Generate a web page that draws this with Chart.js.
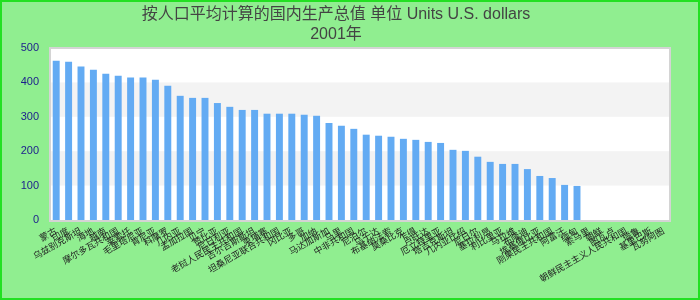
<!DOCTYPE html>
<html><head><meta charset="utf-8">
<script src="https://cdn.jsdelivr.net/npm/chart.js@4/dist/chart.umd.min.js"></script>
<style>
html,body{margin:0;padding:0;background:#90ee90;}
#wrap{width:700px;height:300px;box-sizing:border-box;border:2px solid #22e022;background:#90ee90;}
canvas{display:block;}
</style></head><body>
<div id="wrap"><canvas id="c" width="696" height="296"></canvas></div>
<script>
const titleLines = ["按人口平均计算的国内生产总值 单位 Units U.S. dollars", "2001年"];
const categories = [
  "蒙古","印度","乌兹别克斯坦","海地","越南","摩尔多瓦共和国","莱索托","毛里塔尼亚","肯尼亚","科摩罗",
  "几内亚","孟加拉国","贝宁","赞比亚","尼日利亚","老挝人民民主共和国","吉尔吉斯斯坦","柬埔寨","坦桑尼亚联合共和国","冈比亚",
  "多哥","加纳","马达加斯加","马里","中非共和国","尼泊尔","乌干达","布基纳法索","莫桑比克","乍得",
  "卢旺达","厄立特里亚","塔吉克斯坦","几内亚比绍","尼日尔","塞拉利昂","利比里亚","马拉维","布隆迪","埃塞俄比亚",
  "刚果民主共和国","阿富汗","缅甸","索马里","朝鲜","图瓦卢","朝鲜民主主义人民共和国","瑙鲁","基里巴斯","瓦努阿图"
];
const values = [
  463,460,446,437,425,419,414,414,408,390,
  361,355,355,340,329,320,320,309,309,309,
  306,303,282,274,265,248,245,242,236,233,
  227,224,204,201,184,169,163,163,148,128,
  122,102,99,null,null,null,null,null,null,null
];
const yTicks = [0,100,200,300,400,500];

const FONT = "'Liberation Sans', Arial, 'Noto Sans CJK SC', sans-serif";

const plotBg = {
  id: 'plotBg',
  beforeDatasetsDraw(chart) {
    const {ctx, chartArea: a, scales: {y}} = chart;
    ctx.save();
    ctx.fillStyle = '#ffffff';
    ctx.fillRect(a.left, a.top, a.width, a.height);
    ctx.fillStyle = '#f3f3f3';
    for (let i = 0; i < yTicks.length - 1; i++) {
      if (i % 2 === 1) {
        const yTop = y.getPixelForValue(yTicks[i + 1]);
        const yBot = y.getPixelForValue(yTicks[i]);
        ctx.fillRect(a.left, yTop, a.width, yBot - yTop);
      }
    }
    ctx.restore();
  },
  afterDatasetsDraw(chart) {
    const {ctx, chartArea: a} = chart;
    ctx.save();
    ctx.strokeStyle = '#d4d4d4';
    ctx.lineWidth = 2;
    ctx.strokeRect(a.left, a.top, a.width, a.height + 1);
    ctx.restore();
  }
};

new Chart(document.getElementById('c'), {
  type: 'bar',
  data: {
    labels: categories,
    datasets: [{
      data: values,
      backgroundColor: '#63abf3',
      barPercentage: 0.7,
      categoryPercentage: 0.8
    }]
  },
  options: {
    responsive: false,
    animation: false,
    devicePixelRatio: 1,
    layout: {padding: {left: 0, right: 28, top: 0, bottom: 0}},
    plugins: {
      legend: {display: false},
      tooltip: {enabled: false},
      title: {
        display: true,
        text: titleLines,
        color: '#444444',
        font: {size: 16, weight: 'normal', family: FONT, lineHeight: 1.25},
        padding: {top: 3, bottom: 3}
      }
    },
    scales: {
      x: {
        grid: {display: false, drawTicks: false},
        border: {display: false},
        ticks: {
          autoSkip: false, maxRotation: 30, minRotation: 30,
          color: '#222222', padding: 6,
          font: {size: 9, family: FONT}
        },
        afterFit(s) { s.paddingLeft = 0; s.paddingRight = 0; s.height = 78; }
      },
      y: {
        min: 0, max: 500,
        grid: {display: false, drawTicks: false},
        border: {display: false},
        ticks: {stepSize: 100, padding: 11, color: '#1c1c8c', font: {size: 11, family: FONT}},
        afterFit(s) { s.width = 48; }
      }
    }
  },
  plugins: [plotBg]
});
</script>
</body></html>
